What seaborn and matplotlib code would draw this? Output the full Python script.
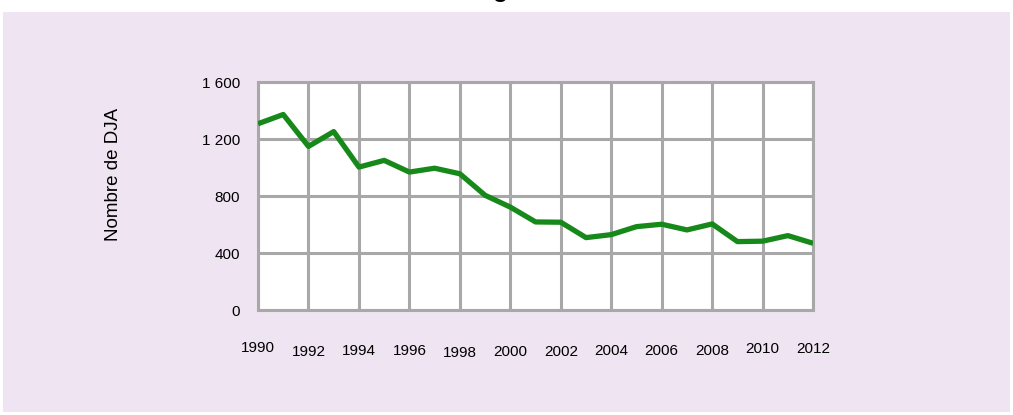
import matplotlib
matplotlib.use("Agg")
import matplotlib.pyplot as plt
import matplotlib.transforms as mtransforms
from matplotlib.patches import Rectangle
import pandas as pd
import seaborn as sns

years = list(range(1990, 2013))
dja = [1307, 1372, 1148, 1252, 1003, 1050, 968, 995, 956, 805, 722,
       618, 616, 508, 529, 585, 602, 562, 604, 480, 483, 522, 468]

xticks = list(range(1990, 2013, 2))
xlabels = [str(y) for y in xticks]
yticks = [0, 400, 800, 1200, 1600]
ylabels = ["0", "400", "800", "1 200", "1 600"]
# small vertical jitter of the year labels, as in the original
label_shift = [4, 0, 1, 1, -1, 0, 0, 1, 1, 1, 3, 3]

df = pd.DataFrame({"Année": years, "DJA": dja})

sns.set_theme(style="white")
plt.rcParams["font.family"] = ["Liberation Sans", "DejaVu Sans"]

fig = plt.figure(figsize=(10.13, 4.15), dpi=100)
fig.patch.set_facecolor("white")
fig.patches.append(Rectangle((3 / 1013, 3 / 415), 1007 / 1013, 400 / 415,
                             transform=fig.transFigure, facecolor="#EFE4F1",
                             edgecolor="none", zorder=-5))
fig.text(0.494, 1.008, "g", ha="center", va="baseline", fontsize=18,
         fontweight="bold", color="black")

ax = fig.add_axes([0.2547, 0.253, 0.548, 0.5494])
ax.set_zorder(2)
ax.set_facecolor("white")

sns.lineplot(data=df, x="Année", y="DJA", ax=ax, color="#17891A",
             linewidth=3.8, solid_joinstyle="round", solid_capstyle="butt",
             zorder=3)

ax.set_xlim(1990, 2012)
ax.set_ylim(0, 1600)
ax.set_xticks(xticks)
ax.set_xticklabels(xlabels, fontsize=11)
ax.set_yticks(yticks)
ax.set_yticklabels(ylabels, fontsize=11)
ax.tick_params(axis="both", length=0, colors="black")
ax.tick_params(axis="x", pad=25)
ax.tick_params(axis="y", pad=13)

ax.grid(True, color="#A8A8A8", linewidth=2.2, zorder=1)
ax.set_axisbelow(True)
for s in ax.spines.values():
    s.set_color("#A8A8A8")
    s.set_linewidth(2.2)
    s.set_visible(True)

for lab, dy in zip(ax.get_xticklabels(), label_shift):
    lab.set_transform(lab.get_transform() +
                      mtransforms.ScaledTranslation(0, dy / 100, fig.dpi_scale_trans))

ax.set_xlabel("")
ax.set_ylabel("Nombre de DJA", fontsize=13.5, color="black")
ax.yaxis.set_label_coords(-0.245, 0.596)

fig.savefig("out.png", dpi=100)
